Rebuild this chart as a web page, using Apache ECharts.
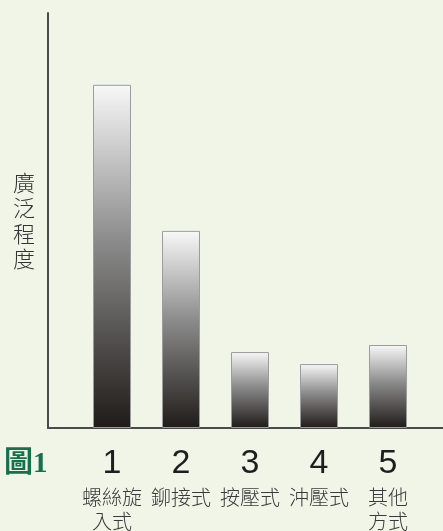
<!DOCTYPE html>
<html>
<head>
<meta charset="utf-8">
<script src="https://cdn.jsdelivr.net/npm/echarts@6/dist/echarts.min.js"></script>
<style>
html,body{margin:0;padding:0;background:#f0f5e8;}
#c{width:443px;height:531px;}
</style>
</head>
<body>
<div id="c"></div>
<script>
const categories = ['1', '2', '3', '4', '5'];
const categoryNames = ['螺絲旋\n入式', '鉚接式', '按壓式', '沖壓式', '其他\n方式'];
const values = [82.7, 47.5, 18.3, 15.4, 20.0];
const yAxisName = '廣泛程度';
const figureLabel = '圖1';

const chart = echarts.init(document.getElementById('c'));
const barGradient = new echarts.graphic.LinearGradient(0, 0, 0, 1, [
  { offset: 0, color: '#f8f8f8' },
  { offset: 0.45, color: '#8c8c8c' },
  { offset: 1, color: '#1f1b18' }
]);
chart.setOption({
  backgroundColor: '#f0f5e8',
  animation: false,
  graphic: [{
    type: 'text', left: 4, top: 450,
    style: { text: figureLabel, fill: '#16704c', font: 'bold 29px "Liberation Serif", "Noto Sans CJK TC"' }
  }],
  grid: [
    { left: 77.5, right: 20.5, top: 13, bottom: 103 },
    { left: 48, right: 0, top: 13, bottom: 103 }
  ],
  xAxis: [
    {
      gridIndex: 0, type: 'category', data: categories,
      axisLine: { show: false }, axisTick: { show: false },
      axisLabel: {
        margin: 15,
        formatter: function (v, i) {
          const lines = categoryNames[i].split('\n').map(s => '{t|' + s + '}').join('\n');
          return '{n|' + v + '}\n' + lines;
        },
        rich: {
          n: { fontSize: 34, lineHeight: 42, color: '#1e1e1e', fontFamily: '"Liberation Sans", Arial, sans-serif' },
          t: { fontSize: 20, lineHeight: 24, color: '#3a3a3a', fontWeight: 300, fontFamily: '"Noto Sans CJK TC", sans-serif' }
        }
      }
    },
    {
      gridIndex: 1, type: 'category', data: [],
      axisLine: { show: true, lineStyle: { color: '#4a4a4a', width: 2 } },
      axisTick: { show: false }, axisLabel: { show: false }
    }
  ],
  yAxis: [
    { gridIndex: 0, type: 'value', min: 0, max: 100, show: false },
    {
      gridIndex: 1, type: 'value', min: 0, max: 100,
      axisLine: { show: true, lineStyle: { color: '#4a4a4a', width: 2 } },
      axisTick: { show: false }, axisLabel: { show: false }, splitLine: { show: false },
      name: yAxisName.split('').join('\n'),
      nameLocation: 'middle', nameRotate: 0, nameGap: 13,
      nameTextStyle: { fontSize: 22, lineHeight: 25.5, color: '#333333', fontWeight: 300, fontFamily: '"Noto Sans CJK TC", sans-serif' }
    }
  ],
  series: [{
    type: 'bar', xAxisIndex: 0, yAxisIndex: 0,
    data: values, barWidth: 38,
    itemStyle: { color: barGradient, borderColor: '#9c9c9c', borderWidth: 1 }
  }]
});
</script>
</body>
</html>
